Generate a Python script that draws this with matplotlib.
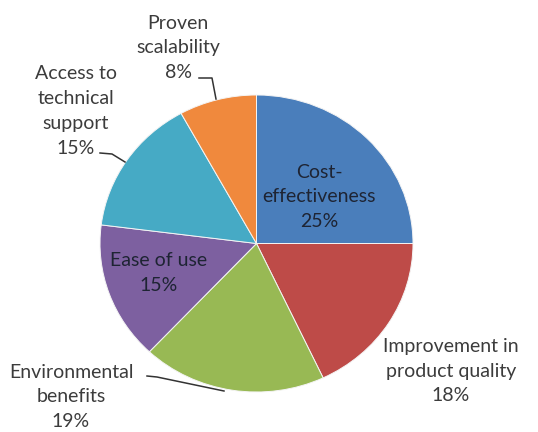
import matplotlib.pyplot as plt

# Survey: most important factor when choosing a technology

labels = ['Cost-\neffectiveness', 'Improvement in\nproduct quality',
          'Environmental\nbenefits', 'Ease of use',
          'Access to\ntechnical\nsupport', 'Proven\nscalability']
shares = [25, 18, 19, 15, 15, 8]
colors = ['#4A7EBB', '#BE4B48', '#98B954', '#7D60A0', '#46AAC5', '#F0893D']

plt.rcParams['font.family'] = ['Lato', 'DejaVu Sans']

# layout in pixels
W, H = 538, 432
cx, cy = 256.5, 243.5
rx, ry = 156.5, 148.5


def to_data(px, py):
    return (px - cx) / rx, (cy - py) / ry


fig = plt.figure(figsize=(W / 100, H / 100), dpi=100)
ax = fig.add_axes([0, 0, 1, 1])
ax.pie(shares, colors=colors, startangle=90, counterclock=False,
       wedgeprops=dict(edgecolor='#f4f4f4', linewidth=0.7))
ax.set_aspect('auto')
ax.set_xlim(to_data(0, 0)[0], to_data(W, 0)[0])
ax.set_ylim(to_data(0, H)[1], to_data(0, 0)[1])

# label centres and whether they sit inside the slice
label_pos = [(319, 197), (451, 371), (71, 397), (159, 273), (76, 111), (178, 48)]
inside = [True, False, False, True, False, False]

for lab, s, (px, py), ins in zip(labels, shares, label_pos, inside):
    x, y = to_data(px, py)
    ax.text(x, y, f'{lab}\n{s}%', ha='center', va='center', fontsize=14,
            linespacing=1.55, color='#1e2433' if ins else '#3c3c3c')

# leader lines for the outside labels
leaders = [
    [(147, 376), (157, 377), (224, 391)],
    [(100, 153), (112, 154), (125, 162)],
    [(199, 78), (212, 78), (216, 99)],
]
for pts in leaders:
    xs, ys = zip(*[to_data(px, py) for px, py in pts])
    ax.plot(xs, ys, color='#333333', lw=1.1)

plt.savefig('out.png', dpi=100)
